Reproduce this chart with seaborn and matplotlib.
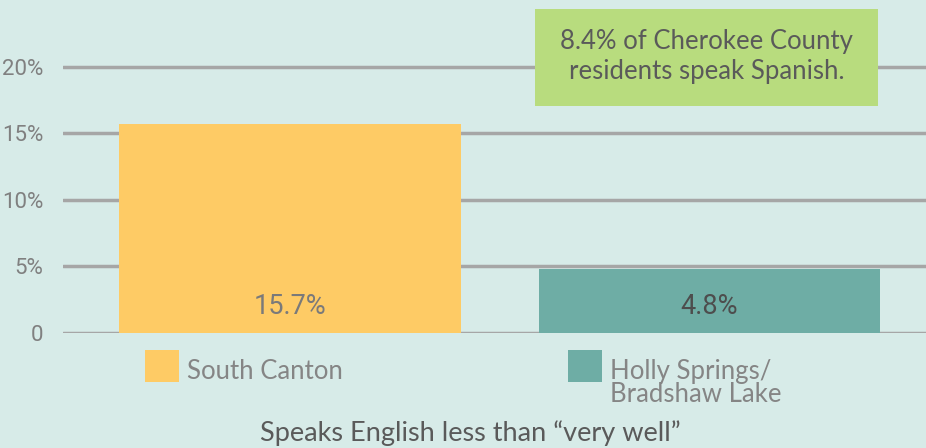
import matplotlib
matplotlib.use("Agg")
import matplotlib.pyplot as plt
import seaborn as sns
import pandas as pd
from matplotlib.patches import Rectangle

# data
areas = ["South Canton", "Holly Springs/\nBradshaw Lake"]
pct_limited_english = [15.7, 4.8]
value_labels = ["15.7%", "4.8%"]
bar_colors = ["#fecb65", "#6eada5"]
y_ticks = [0, 5, 10, 15, 20]
y_tick_labels = ["0", "5%", "10%", "15%", "20%"]
callout = "8.4% of Cherokee County\nresidents speak Spanish."
x_title = "Speaks English less than \u201cvery well\u201d"

BG = "#d7ebe8"
GRID = "#a6a6a6"
NARROW = ["Roboto", "DejaVu Sans"]
REG = ["Lato", "DejaVu Sans"]

sns.set_theme(style="white")
plt.rcParams["font.family"] = REG

df = pd.DataFrame({"area": areas, "pct": pct_limited_english})

W, H = 926, 448
fig = plt.figure(figsize=(W / 100, H / 100), dpi=100, facecolor=BG)
ax = fig.add_axes([63 / W, (H - 333) / H, 1 - 63 / W, 333 / H])
ax.set_facecolor(BG)

sns.barplot(data=df, x="area", y="pct", hue="area", palette=bar_colors,
            width=0.815, saturation=1, legend=False, linewidth=0,
            ax=ax, zorder=3)

ax.set_xlim(-0.541, 1.516)
ax.set_ylim(0, 25.0)
ax.set_yticks(y_ticks)
ax.set_yticklabels(y_tick_labels, family=NARROW, fontsize=16, color="#808080")
ax.tick_params(axis="y", length=0, pad=14)
ax.set_xticks([])
ax.set_xlabel("")
ax.set_ylabel("")
for y in y_ticks:
    ax.axhline(y, color=GRID, lw=2.5, zorder=1)
for s in ax.spines.values():
    s.set_visible(False)

# value labels inside bars
label_colors = ["#7a7a7a", "#4d4d4d"]
for i, (lab, c) in enumerate(zip(value_labels, label_colors)):
    ax.text(i, 2.0, lab, ha="center", va="center", family=NARROW,
            fontsize=19.5, color=c, zorder=4)

# callout box
box = Rectangle((535 / W, 1 - 106 / H), 343 / W, 97 / H,
                transform=fig.transFigure, facecolor="#b8dc7e",
                edgecolor="none", zorder=5)
fig.add_artist(box)
fig.text(706.5 / W, 1 - 56 / H, callout, ha="center", va="center",
         fontsize=18.5, color="#5a5a5a", linespacing=1.25, zorder=6)

# legend
leg_x = [145, 568]
for xp, name, c in zip(leg_x, areas, bar_colors):
    fig.add_artist(Rectangle((xp / W, 1 - 382 / H), 34 / W, 32 / H,
                             transform=fig.transFigure, facecolor=c,
                             edgecolor="none"))
    fig.text((xp + 42) / W, 1 - 359 / H, name, ha="left", va="top",
             fontsize=18.5, color="#858585", linespacing=0.9)

fig.text(470 / W, 1 - 433 / H, x_title, ha="center", va="center",
         fontsize=19.5, color="#5a5a5a")

fig.savefig("out.png", dpi=100, facecolor=BG)
